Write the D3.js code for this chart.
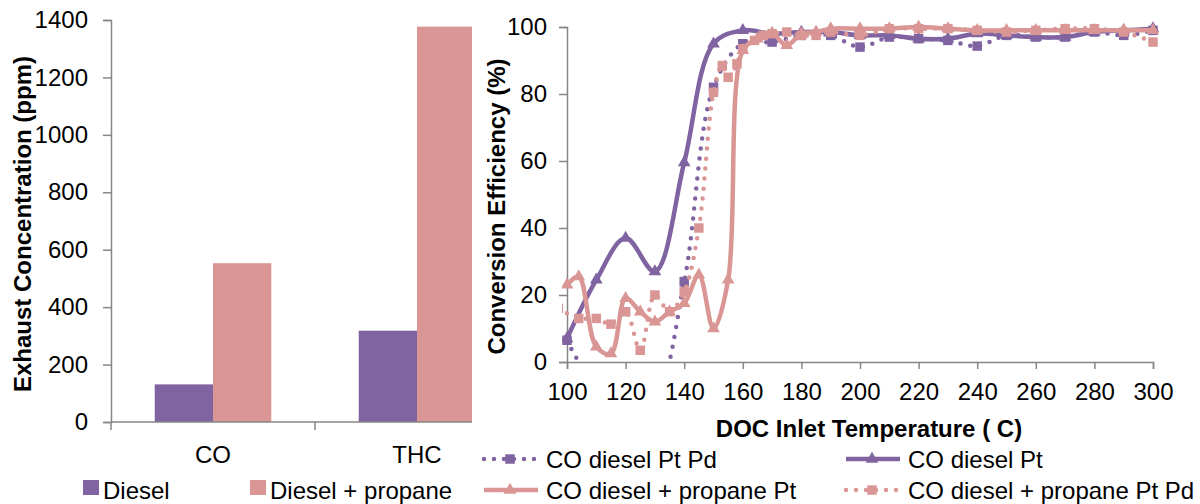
<!DOCTYPE html>
<html>
<head>
<meta charset="utf-8">
<script src="https://cdn.jsdelivr.net/npm/d3@7"></script>
<style>
  html, body { margin: 0; padding: 0; background: #fff; }
  svg { display: block; font-family: "Liberation Sans", Arial, sans-serif; }
</style>
</head>
<body>
<svg id="chart" width="1200" height="504"></svg>
<script>
// ---- Exhaust concentration (bar chart) ----
const barCategories = ["CO", "THC"];
const barSeriesNames = ["Diesel", "Diesel + propane"];
const dieselPpm = [131, 318];
const propanePpm = [553, 1377];
const ppmTicks = [0, 200, 400, 600, 800, 1000, 1200, 1400];

// ---- Conversion efficiency vs DOC inlet temperature ----
const seriesNames = ["CO diesel Pt Pd", "CO diesel Pt", "CO diesel + propane Pt", "CO diesel + propane Pt Pd"];

const tempDieselPtPd = [100, 110, 120, 130, 140, 150, 160, 170, 180, 190, 200, 210, 220, 230, 240, 250, 260, 270, 280, 290, 300];
const effDieselPtPd  = [6.5, -6, -3, -9, 24, 82, 95, 95.5, 97.5, 97.5, 94, 97, 96.5, 96, 94.3, 97.5, 97, 97, 98.5, 97.5, 99];

const tempDieselPt = [100, 110, 120, 130, 140, 150, 160, 170, 180, 190, 200, 210, 220, 230, 240, 250, 260, 270, 280, 290, 300];
const effDieselPt  = [7, 24.5, 37, 27, 59.5, 95, 99, 98, 98.5, 98.5, 97.5, 97.5, 96.5, 96.5, 98, 97.5, 97, 97, 98.5, 99, 99.5];

const tempPropanePt = [100, 104, 110, 115, 120, 125, 130, 135, 140, 145, 150, 155, 160, 165, 170, 175, 180, 185, 190, 200, 210, 220, 230, 240, 250, 260, 270, 280, 290, 300];
const effPropanePt  = [23, 25.5, 4.5, 2.5, 19, 15, 12, 15, 17.5, 26, 10, 24.5, 93, 96.5, 98, 94.5, 98, 98.5, 99.5, 99.5, 99.5, 100, 99.5, 99, 99, 99, 99, 99, 99, 99];

const tempPropanePtPd = [97, 104, 110, 115, 120, 125, 130, 135, 140, 145, 150, 153, 155, 158, 160, 164, 167, 170, 175, 180, 185, 190, 200, 210, 220, 230, 240, 250, 260, 270, 280, 290, 300];
const effPropanePtPd  = [16, 13, 13, 11.3, 15, 3.5, 20, 15, 21, 40, 80.5, 88.5, 85, 89, 93.5, 96, 97.5, 98, 98.5, 97.5, 97.5, 98.5, 97.5, 99.5, 99.5, 99.5, 99, 98.5, 99, 99.5, 99.5, 98.5, 95.5];

const tempTicks = [100, 120, 140, 160, 180, 200, 220, 240, 260, 280, 300];
const effTicks = [0, 20, 40, 60, 80, 100];

const PURPLE = "#8064A2";
const PINK = "#D99694";
const AXIS = "#868686";

const svg = d3.select("#chart");
const defs = svg.append("defs");

// ================= Left panel: bars =================
const L = { left: 111, right: 519, top: 20, bottom: 422 };
defs.append("clipPath").attr("id", "leftClip")
  .append("rect").attr("x", 0).attr("y", 0).attr("width", 472).attr("height", 504);

const left = svg.append("g").attr("clip-path", "url(#leftClip)");

const xBand = d3.scaleBand().domain(barCategories).range([L.left, L.right]).padding(0);
const yPpm = d3.scaleLinear().domain([0, 1400]).range([L.bottom, L.top]);
const groupW = xBand.bandwidth() / 1.75;
const xInner = d3.scaleBand().domain(barSeriesNames).range([0, groupW]).padding(0);

const barRows = barCategories.map((c, i) => ({ cat: c, values: [dieselPpm[i], propanePpm[i]] }));
const barColors = [PURPLE, PINK];

left.selectAll("g.cat").data(barRows).join("g")
  .attr("class", "cat")
  .attr("transform", d => `translate(${xBand(d.cat) + (xBand.bandwidth() - groupW) / 2},0)`)
  .selectAll("rect").data(d => d.values.map((v, k) => ({ v, k }))).join("rect")
  .attr("x", d => xInner(barSeriesNames[d.k]))
  .attr("width", xInner.bandwidth())
  .attr("y", d => yPpm(d.v))
  .attr("height", d => yPpm(0) - yPpm(d.v))
  .attr("fill", d => barColors[d.k]);

// y axis
const yAxisL = left.append("g").attr("transform", `translate(${L.left},0)`)
  .call(d3.axisLeft(yPpm).tickValues(ppmTicks).tickSize(8).tickPadding(15).tickFormat(d3.format("d")));
// x axis (category boundaries as tick marks)
const xAxisL = left.append("g").attr("transform", `translate(0,${L.bottom})`);
xAxisL.append("line").attr("x1", L.left).attr("x2", L.right).attr("y1", 0).attr("y2", 0);
xAxisL.selectAll("line.tk").data([L.left, xBand("THC"), L.right]).join("line")
  .attr("class", "tk").attr("x1", d => d).attr("x2", d => d).attr("y1", 0).attr("y2", 8);
xAxisL.selectAll("text").data(barCategories).join("text")
  .attr("x", d => xBand(d) + xBand.bandwidth() / 2)
  .attr("y", 41)
  .attr("text-anchor", "middle")
  .text(d => d);

[yAxisL, xAxisL].forEach(g => {
  g.select(".domain").attr("stroke", AXIS).attr("stroke-width", 1.5);
  g.selectAll("line").attr("stroke", AXIS).attr("stroke-width", 1.5);
  g.selectAll("text").attr("font-size", 24).attr("fill", "#000").attr("font-family", "Liberation Sans, Arial, sans-serif");
});

svg.append("text")
  .attr("transform", `translate(31,224) rotate(-90)`)
  .attr("text-anchor", "middle")
  .attr("font-size", 24).attr("font-weight", "bold")
  .text("Exhaust Concentration (ppm)");

// bar legend
const barLegend = svg.append("g");
[[83, 270], [250, 270]].forEach((p, i) => {
  barLegend.append("rect").attr("x", p[0]).attr("y", 480).attr("width", 16).attr("height", 15).attr("fill", barColors[i]);
  barLegend.append("text").attr("x", p[0] + 20).attr("y", 499).attr("font-size", 24).text(barSeriesNames[i]);
});

// ================= Right panel: lines =================
const R = { left: 567, right: 1153, top: 27, bottom: 362 };
const xT = d3.scaleLinear().domain([100, 300]).range([R.left, R.right]);
const yE = d3.scaleLinear().domain([0, 100]).range([R.bottom, R.top]);

defs.append("clipPath").attr("id", "plotClip")
  .append("rect").attr("x", R.left - 5).attr("y", R.top - 8)
  .attr("width", R.right - R.left + 11).attr("height", R.bottom - R.top + 10);

const right = svg.append("g");

const yAxisR = right.append("g").attr("transform", `translate(${R.left},0)`)
  .call(d3.axisLeft(yE).tickValues(effTicks).tickSize(8).tickPadding(12).tickFormat(d3.format("d")));
const xAxisR = right.append("g").attr("transform", `translate(0,${R.bottom})`)
  .call(d3.axisBottom(xT).tickValues(tempTicks).tickSize(7).tickPadding(14).tickFormat(d3.format("d")));
[yAxisR, xAxisR].forEach(g => {
  g.select(".domain").attr("stroke", AXIS).attr("stroke-width", 1.5);
  g.selectAll(".tick line").attr("stroke", AXIS).attr("stroke-width", 1.5);
  g.selectAll("text").attr("font-size", 24).attr("fill", "#000").attr("font-family", "Liberation Sans, Arial, sans-serif");
});

right.append("text")
  .attr("transform", `translate(${505},${(R.top + R.bottom) / 2 + 12}) rotate(-90)`)
  .attr("text-anchor", "middle")
  .attr("font-size", 24).attr("font-weight", "bold")
  .text("Conversion Efficiency (%)");
right.append("text")
  .attr("x", 869).attr("y", 437)
  .attr("text-anchor", "middle")
  .attr("font-size", 24).attr("font-weight", "bold")
  .text("DOC Inlet Temperature ( C)");

const series = [
  { name: seriesNames[0], t: tempDieselPtPd, v: effDieselPtPd, color: PURPLE, dotted: true, marker: "square" },
  { name: seriesNames[1], t: tempDieselPt, v: effDieselPt, color: PURPLE, dotted: false, marker: "triangle" },
  { name: seriesNames[2], t: tempPropanePt, v: effPropanePt, color: PINK, dotted: false, marker: "triangle" },
  { name: seriesNames[3], t: tempPropanePtPd, v: effPropanePtPd, color: PINK, dotted: true, marker: "square" }
];

const line = d3.line().x(d => xT(d[0])).y(d => yE(d[1])).curve(d3.curveCatmullRom.alpha(0.5));
const sqSym = d3.symbol().type(d3.symbolSquare).size(90);
const triSym = d3.symbol().type(d3.symbolTriangle).size(70);

function styleLine(sel, s) {
  sel.attr("fill", "none").attr("stroke", s.color);
  if (s.dotted) {
    sel.attr("stroke-width", 4.5).attr("stroke-linecap", "round").attr("stroke-dasharray", "0 10");
  } else {
    sel.attr("stroke-width", 4.5).attr("stroke-linejoin", "round");
  }
  return sel;
}

const plot = right.append("g").attr("clip-path", "url(#plotClip)");
series.forEach(s => {
  const pts = s.t.map((t, i) => [t, s.v[i]]);
  const g = plot.append("g");
  styleLine(g.append("path").datum(pts).attr("d", line), s);
  g.selectAll("path.mk").data(pts).join("path")
    .attr("class", "mk")
    .attr("transform", d => `translate(${xT(d[0])},${yE(d[1])})`)
    .attr("d", s.marker === "square" ? sqSym : triSym)
    .attr("fill", s.color);
});

// line legend
const legendPos = [[482, 459], [844, 459], [482, 490], [844, 490]];
series.forEach((s, i) => {
  const [x0, y0] = legendPos[i];
  const g = right.append("g");
  styleLine(g.append("path").attr("d", `M${x0 + 2},${y0}L${x0 + 56},${y0}`), s);
  g.append("path").attr("transform", `translate(${x0 + 28},${y0})`)
    .attr("d", s.marker === "square" ? sqSym : triSym).attr("fill", s.color);
  g.append("text").attr("x", x0 + 64).attr("y", y0 + 9).attr("font-size", 24).text(s.name);
});
</script>
</body>
</html>
